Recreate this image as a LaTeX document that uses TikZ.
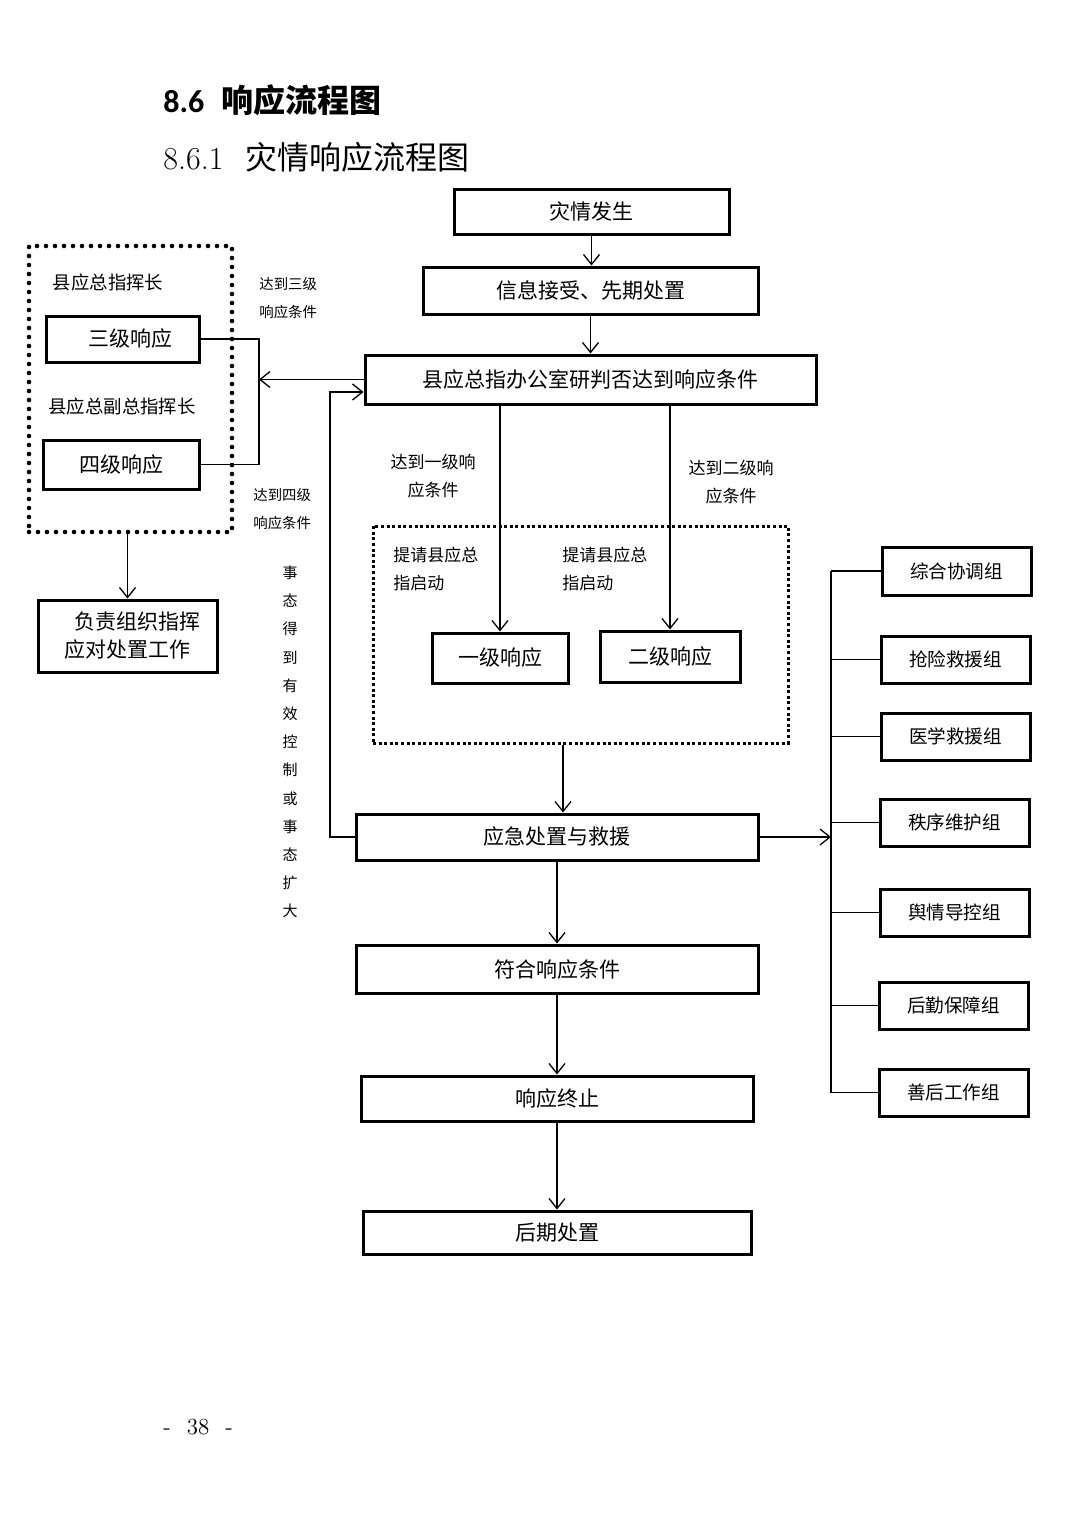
\documentclass[tikz,border=0pt]{standalone}
\usepackage{fontspec}
\newfontfamily\cjk{Noto Sans CJK SC}
\newfontfamily\carl{Carlito}
\newfontfamily\serifnum{Liberation Serif}
\usetikzlibrary{arrows.meta}
\newcommand\mybox[7][box]{\node[#1,minimum width={(#5-#3)*0.5pt},minimum height={(#6-#4)*0.5pt}] (#2) at ({(#3+#5)/2},{(#4+#6)/2}) {#7};}
\begin{document}
\begin{tikzpicture}[x=0.5pt,y=-0.5pt,
  box/.style={draw, line width=1.5pt, inner sep=0pt, align=center, font=\cjk\fontsize{10.5}{14}\selectfont},
  gbox/.style={box, font=\cjk\fontsize{9.3}{11}\selectfont},
  dotbox/.style={draw, line width=2.3pt, line cap=round, dash pattern=on 0pt off 4.5pt, inner sep=0pt},
  sqbox/.style={draw, line width=1.5pt, dash pattern=on 1.5pt off 1.3pt, inner sep=0pt},
  ln/.style={line width=0.65pt},
  arr/.style={ln, -{Straight Barb[length=5pt,width=8pt,line width=0.65pt]}},
  lbl/.style={inner sep=0pt, align=center, font=\cjk\fontsize{7.2}{14}\selectfont},
  mlbl/.style={inner sep=0pt, align=center, font=\cjk\fontsize{8.5}{14}\selectfont},
  hlbl/.style={inner sep=0pt, font=\cjk\fontsize{9.2}{11}\selectfont}
]
\useasboundingbox[fill=white] (0,0) rectangle (1074,1520);

% titles
\node[anchor=west, inner sep=0pt] (t1) at (163,100) {\carl\bfseries\fontsize{16}{18}\selectfont 8.6\hspace{8.5pt}\cjk\bfseries 响应流程图};
\node[anchor=west, inner sep=0pt] (t2) at (163,157) {\fontsize{16}{18}\selectfont 8.6.1\hspace{11pt}\cjk 灾情响应流程图};

% main column
\mybox{zq}{454}{189}{729}{234}{灾情发生}
\mybox{xx}{423}{267}{758}{314}{信息接受、先期处置}
\mybox{pd}{365}{355}{816}{404}{县应总指办公室研判否达到响应条件}
\mybox{yj}{356}{814}{758}{860}{应急处置与救援}
\mybox{fh}{356}{945}{758}{993}{符合响应条件}
\mybox{zz}{361}{1076}{753}{1121}{响应终止}
\mybox{hq}{363}{1211}{751}{1254}{后期处置}

% left dotted group
\mybox[dotbox]{lb}{29}{246}{232}{532}{}
\node[hlbl] (h1) at (108,282) {县应总指挥长};
\node[hlbl] (h2) at (122,406) {县应总副总指挥长};
\mybox{s3}{46}{316}{199}{362}{\hspace{8pt}三级响应}
\mybox{s4}{43}{440}{199}{489}{四级响应}
\mybox{fz}{38}{600}{217}{672}{\hspace{10pt}负责组织指挥\\应对处置工作}

% middle dotted group
\mybox[sqbox]{mb}{373}{526}{788}{743}{}
\node[mlbl, align=left, anchor=west] (q1) at (393,569) {提请县应总\\指启动};
\node[mlbl, align=left, anchor=west] (q2) at (562,569) {提请县应总\\指启动};
\mybox{y1}{432}{633}{568}{683}{一级响应}
\mybox{y2}{600}{631}{740}{682}{二级响应}

% labels
\node[lbl, anchor=west] (l3) at (259,298) {达到三级\\响应条件};
\node[lbl, anchor=west] (l4) at (253,509) {达到四级\\响应条件};
\node[mlbl] (l1) at (433,476) {达到一级响\\应条件};
\node[mlbl] (l2) at (731,482) {达到二级响\\应条件};
\node[inner sep=0pt, align=center, font=\cjk\fontsize{7.5}{14.1}\selectfont] (vt) at (290,742)
  {事\\态\\得\\到\\有\\效\\控\\制\\或\\事\\态\\扩\\大};

% groups
\mybox[gbox]{g1}{882}{547}{1031}{595}{综合协调组}
\mybox[gbox]{g2}{881}{636}{1030}{683}{抢险救援组}
\mybox[gbox]{g3}{881}{713}{1030}{760}{医学救援组}
\mybox[gbox]{g4}{880}{799}{1029}{846}{秩序维护组}
\mybox[gbox]{g5}{880}{889}{1029}{936}{舆情导控组}
\mybox[gbox]{g6}{879}{982}{1028}{1029}{后勤保障组}
\mybox[gbox]{g7}{879}{1069}{1028}{1116}{善后工作组}

% page number
\node[inner sep=0pt, anchor=west, font=\fontsize{11.5}{13}\selectfont] (pg) at (163,1427) {-\hspace{8pt}38\hspace{8pt}-};

% coordinates
\coordinate (jx) at (259,0);
\coordinate (ly) at (330,392);
\coordinate (m1) at (563,0);
\coordinate (bx) at (831,0);

% connectors
\draw[arr] (zq.south) -- (zq.south |- xx.north);
\draw[arr] (xx.south) -- (xx.south |- pd.north);
\draw[ln] (s3.east) -- (s3.east -| jx) -- (s4.east -| jx) -- (s4.east);
\draw[arr] (pd.west) -- (pd.west -| jx);
\draw[arr] (yj.west) -| (ly) -- (ly -| pd.west);
\draw[arr] (lb.south -| fz.north) -- (fz.north);
\draw[arr] (y1.north |- pd.south) -- (y1.north);
\draw[arr] (y2.north |- pd.south) -- (y2.north);
\draw[arr] (mb.south -| m1) -- (yj.north -| m1);
\draw[arr] (yj.south) -- (fh.north);
\draw[arr] (fh.south) -- (zz.north);
\draw[arr] (zz.south) -- (hq.north);
\draw[arr] (yj.east) -- (yj.east -| bx);
\draw[ln] (g1.west -| bx) -- (g7.west -| bx);
\foreach \g in {g1,g2,g3,g4,g5,g6,g7} \draw[ln] (\g.west -| bx) -- (\g.west);
\end{tikzpicture}
\end{document}
